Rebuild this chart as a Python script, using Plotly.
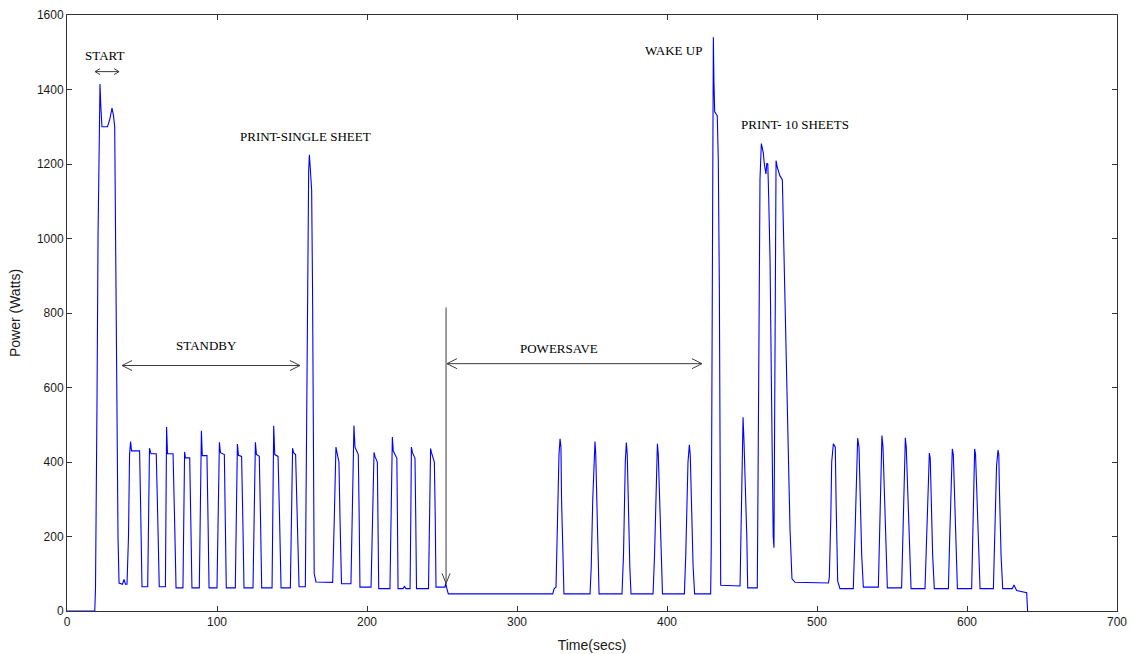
import plotly.graph_objects as go

# ---- data: time (s) and power (W) ----
start_t = [0, 18.5, 19, 19.5, 20, 20.7, 21.3, 22, 22.5, 23.3, 27, 28.5, 30, 31, 31.8, 32.4, 33.3, 34, 34.7, 37, 38, 39]
start_p = [0, 0, 60, 240, 560, 1010, 1300, 1415, 1360, 1300, 1300, 1320, 1350, 1330, 1300, 960, 470, 200, 75, 72, 85, 72]

standby_t = [40, 41, 41.7, 42.4, 43, 48.4, 49, 50, 53.8,
             54.5, 55, 56, 59.5, 60.5, 61.5, 65.6,
             66, 66.4, 67, 70.7, 71.7, 72.7, 77.3,
             78, 78.4, 79, 81.8, 82.5, 83.3, 88.2,
             89, 89.6, 90.2, 93.3, 94, 94.7, 100,
             101, 101.6, 102.3, 104.9, 105.5, 106.2, 112.2,
             113, 113.6, 114.3, 116.4, 117.2, 118, 124,
             125, 125.6, 126.3, 128.2, 129, 129.8, 136.7,
             137.3, 137.8, 138.5, 140.7, 141.7, 142.7, 148.9,
             149.8, 150.4, 151, 152.4, 153.5, 154.7, 158.9]
standby_p = [72, 200, 420, 455, 430, 430, 300, 65, 65,
             250, 437, 422, 422, 250, 65, 65,
             250, 494, 422, 422, 250, 62, 62,
             250, 427, 411, 411, 250, 62, 62,
             250, 484, 417, 417, 250, 62, 62,
             250, 453, 425, 420, 250, 62, 62,
             250, 448, 418, 415, 250, 62, 62,
             250, 453, 420, 415, 250, 62, 62,
             250, 497, 420, 415, 250, 62, 62,
             250, 437, 425, 420, 250, 65, 65]

single_t = [159.5, 160.3, 161.1, 161.6, 162.2, 163.1, 163.7, 164.2, 164.8, 166, 177.1]
single_p = [400, 900, 1180, 1225, 1190, 1130, 860, 440, 100, 78, 77]

standby2_t = [178.2, 179, 179.3, 180, 181.3, 182, 183, 189.3,
              190.3, 191, 191.3, 192, 194.2, 194.8, 195.3, 202.7,
              203.7, 204.3, 204.7, 205.3, 206.9, 207.3, 207.8, 215.3,
              216.2, 216.7, 216.9, 217.5, 219.9, 220.3, 220.7, 224, 225, 226, 228.7,
              229.2, 229.6, 230.3, 232, 232.5, 233, 241,
              241.8, 242.4, 243, 244.9, 245.5, 246, 252, 252.5, 253, 254.2]
standby2_p = [250, 420, 440, 425, 400, 250, 73, 73,
              250, 450, 498, 440, 420, 250, 64, 64,
              250, 410, 426, 415, 400, 250, 60, 60,
              250, 440, 467, 430, 410, 250, 60, 60, 66, 60, 60,
              250, 440, 425, 410, 250, 60, 60,
              250, 436, 425, 400, 250, 64, 64, 75, 64, 48]

powersave_t = [254.2, 323.8, 324.8, 326, 327, 328, 328.7, 329.3, 329.7, 330.3, 331.3, 348.7,
               349.5, 350.5, 351.4, 352, 352.5, 353.3, 354, 354.7, 370,
               371, 372.2, 372.9, 373.5, 374.4, 375.2, 376, 390.7,
               391.7, 393, 393.6, 394.2, 395.5, 396.3, 397, 411.6,
               412.5, 414, 414.9, 415.5, 416.4, 417.4, 418.4, 429.1]
powersave_p = [46, 46, 60, 64, 250, 420, 462, 440, 300, 180, 46, 46,
               120, 300, 420, 455, 420, 250, 120, 46, 46,
               150, 400, 452, 420, 250, 120, 46, 46,
               150, 400, 449, 420, 250, 120, 46, 46,
               150, 400, 446, 420, 250, 120, 46, 46]

wake_t = [429.5, 430, 430.5, 430.9, 431.3, 431.8, 433.5, 434.2, 434.9, 435.3, 435.8, 448.7,
          449.5, 450.3, 450.7, 451.3, 452.3, 453.2, 453.8, 455.3, 460.2]
wake_p = [170, 600, 1300, 1540, 1420, 1340, 1330, 1210, 870, 460, 69, 67,
          250, 480, 520, 460, 345, 200, 62, 62, 62]

print10_t = [460.7, 461.3, 462, 462.9, 464.2, 464.9, 466, 466.5, 467.2, 467.8, 468.7, 469.6,
             470.2, 470.8, 471.3, 471.8, 472.2, 472.7, 473.6, 475.3, 476.9, 478, 479.3,
             480.9, 482, 483.3, 485.3, 507.6]
print10_p = [355, 810, 1160, 1255, 1230, 1199, 1173, 1201, 1200, 1111, 942, 612,
             314, 200, 170, 600, 1100, 1209, 1190, 1168, 1158, 952, 715,
             458, 221, 87, 77, 75]

standby3_t = [508.2, 509.2, 509.8, 510.9, 512.2, 512.7, 513.1, 513.8, 515.3, 524.2,
              525.3, 526.5, 527.1, 528, 528.7, 529.8, 530.9, 540.9,
              541.7, 542.7, 543.3, 544, 544.7, 545.8, 546.9, 556.4,
              557.2, 558.3, 558.9, 559.5, 560.2, 561.6, 562.7, 572,
              573, 574.2, 574.9, 575.5, 576, 577.1, 578.2, 587.6,
              588.5, 589.6, 590.2, 590.9, 591.6, 592.7, 593.6, 603.1,
              603.8, 604.6, 605.1, 605.7, 606.4, 607.6, 608.7, 617.6,
              618.4, 619.7, 620.7, 621.2, 621.6, 622.7, 623.8, 630.2,
              631.3, 633.1, 639.8, 640.4]
standby3_p = [90, 250, 400, 449, 440, 300, 200, 80, 60, 60,
              200, 400, 464, 440, 300, 150, 64, 64,
              200, 400, 471, 440, 350, 150, 62, 62,
              200, 400, 465, 440, 350, 150, 60, 60,
              200, 380, 424, 410, 330, 150, 60, 60,
              200, 390, 435, 420, 330, 150, 60, 60,
              200, 390, 435, 420, 330, 150, 60, 60,
              200, 390, 432, 420, 330, 150, 60, 60,
              70, 55, 49, 0]

time_s = start_t + standby_t + single_t + standby2_t + powersave_t + wake_t + print10_t + standby3_t
power_w = start_p + standby_p + single_p + standby2_p + powersave_p + wake_p + print10_p + standby3_p

# annotation labels (text, x, y)
labels = [("START", 25.3, 1491), ("PRINT-SINGLE SHEET", 158.7, 1274), ("STANDBY", 93.3, 713),
          ("POWERSAVE", 328, 705), ("WAKE UP", 404, 1505), ("PRINT- 10 SHEETS", 485.3, 1306)]
# horizontal double arrows: (x_start, x_end, y, head_len_px, head_half_px)
h_arrows = [(18.7, 34.7, 1448, 5, 3), (36.7, 155.3, 659, 10, 5), (253.3, 423.3, 664, 10, 5)]
# vertical arrow: x, y_top, y_bottom
v_arrow = (252.7, 815, 74)

x_ticks = [0, 100, 200, 300, 400, 500, 600, 700]
y_ticks = [0, 200, 400, 600, 800, 1000, 1200, 1400, 1600]

fig = go.Figure()
fig.add_trace(go.Scatter(x=time_s, y=power_w, mode="lines",
                         line=dict(color="#0000ff", width=1.1), showlegend=False,
                         hoverinfo="x+y"))

arrow_col = "#3c3c3c"
shapes = []
for (xa, xb, yy, hl, hw) in h_arrows:
    shapes.append(dict(type="line", x0=xa, x1=xb, y0=yy, y1=yy, xref="x", yref="y",
                       line=dict(color=arrow_col, width=1)))
    shapes.append(dict(type="path", xref="x", yref="y", xsizemode="pixel", ysizemode="pixel",
                       xanchor=xa, yanchor=yy, path=f"M {hl},{hw} L 0,0 L {hl},{-hw}",
                       line=dict(color=arrow_col, width=1)))
    shapes.append(dict(type="path", xref="x", yref="y", xsizemode="pixel", ysizemode="pixel",
                       xanchor=xb, yanchor=yy, path=f"M {-hl},{hw} L 0,0 L {-hl},{-hw}",
                       line=dict(color=arrow_col, width=1)))
vx, vy0, vy1 = v_arrow
shapes.append(dict(type="line", x0=vx, x1=vx, y0=vy0, y1=vy1, xref="x", yref="y",
                   line=dict(color=arrow_col, width=1)))
shapes.append(dict(type="path", xref="x", yref="y", xsizemode="pixel", ysizemode="pixel",
                   xanchor=vx, yanchor=vy1, path="M -4,10 L 0,0 L 4,10",
                   line=dict(color=arrow_col, width=1)))

annotations = [dict(text=t, x=x, y=y, xref="x", yref="y", showarrow=False,
                    font=dict(family="Liberation Serif", size=13, color="#000000"))
               for (t, x, y) in labels]

fig.update_layout(
    width=1132, height=654,
    margin=dict(l=67, r=15, t=15, b=43),
    paper_bgcolor="white", plot_bgcolor="white",
    shapes=shapes, annotations=annotations,
    font=dict(family="Liberation Sans", size=12, color="#1a1a1a"),
    xaxis=dict(range=[0, 700], tickvals=x_ticks, ticks="inside", ticklen=5, tickcolor="#333",
               showline=True, linecolor="#333", linewidth=1, mirror="ticks", showgrid=False,
               zeroline=False, automargin=False,
               title=dict(text="Time(secs)", standoff=11, font=dict(size=14))),
    yaxis=dict(range=[0, 1600], tickvals=y_ticks, ticks="inside", ticklen=5, tickcolor="#333",
               showline=True, linecolor="#333", linewidth=1, mirror="ticks", showgrid=False,
               zeroline=False, automargin=False,
               title=dict(text="Power (Watts)", standoff=12, font=dict(size=14))),
)

fig.write_html("out.html")
